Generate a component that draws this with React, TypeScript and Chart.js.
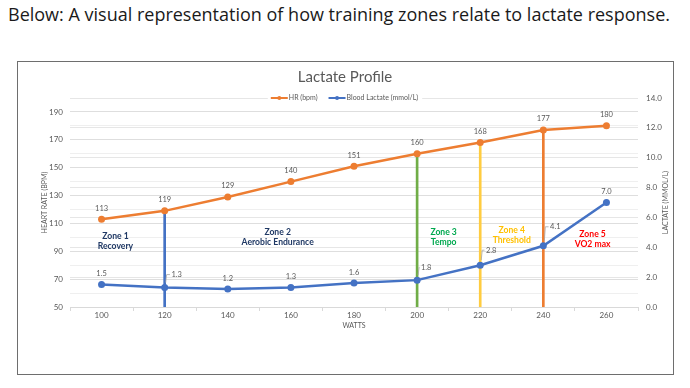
import React, { useEffect, useRef } from 'react';
import { Chart, registerables } from 'chart.js';

Chart.register(...registerables);

const heading = 'Below: A visual representation of how training zones relate to lactate response.';
const chartTitle = 'Lactate Profile';
const xTitle = 'WATTS';
const yLeftTitle = 'HEART RATE (BPM)';
const yRightTitle = 'LACTATE (MMOL/L)';
const hrSeriesName = 'HR (bpm)';
const lactateSeriesName = 'Blood Lactate (mmol/L)';

const watts = ['100', '120', '140', '160', '180', '200', '220', '240', '260'];
const heartRate = [113, 119, 129, 140, 151, 160, 168, 177, 180];
const lactate = [1.5, 1.3, 1.2, 1.3, 1.6, 1.8, 2.8, 4.1, 7.0];

const hrTicks = [50, 70, 90, 110, 130, 150, 170, 190];
const hrMinorGrid = [60, 80, 100, 120, 140, 160, 180];
const lactateTicks = [0, 2, 4, 6, 8, 10, 12, 14];

const zoneBoundaryWatts = ['120', '200', '220', '240'];
const zoneBoundaryColors = ['#4472C4', '#70AD47', '#FFCC40', '#ED7D31'];

const zoneNames = ['Zone 1', 'Zone 2', 'Zone 3', 'Zone 4', 'Zone 5'];
const zoneDescriptions = ['Recovery', 'Aerobic Endurance', 'Tempo', 'Threshold', 'VO2 max'];
const zoneLabelColors = ['#1F3864', '#1F3864', '#00A84F', '#FFC000', '#FF0000'];
// anchor of each zone label, in chart units (watts, heart rate)
const zoneLabelWatts = [104.4, 155.8, 208.4, 230, 255.6];
const zoneLabelHR = [97.4, 100.3, 100.3, 101.7, 98.5];

// label placement for lactate values (pixels relative to point), like moved Excel labels
const lactateLabelOffsets: [number, number][] = [
  [0, -11], [12, -13], [0, -11], [0, -11], [0, -11], [9, -13], [11, -15], [12, -19], [0, -11],
];

const FONT = 'Lato';
const GREY = '#595959';
const HR_COLOR = '#ED7D31';
const LAC_COLOR = '#4472C4';

const overlayPlugin = {
  id: 'overlay',
  afterDatasetsDraw(chart: any) {
    const ctx: CanvasRenderingContext2D = chart.ctx;
    const xs = chart.scales.x;
    const yl = chart.scales.y;
    const yr = chart.scales.y1;
    const ca = chart.chartArea;
    const cx = chart.width / 2;
    ctx.save();

    // data labels
    ctx.font = `7.5px ${FONT}`;
    ctx.fillStyle = GREY;
    ctx.textAlign = 'center';
    ctx.textBaseline = 'middle';
    heartRate.forEach((v, i) => {
      ctx.fillText(String(v), xs.getPixelForValue(i), yl.getPixelForValue(v) - 11);
    });
    lactate.forEach((v, i) => {
      const px = xs.getPixelForValue(i);
      const py = yr.getPixelForValue(v);
      const [dx, dy] = lactateLabelOffsets[i];
      const lx = px + dx;
      const ly = py + dy;
      const t = v.toFixed(1);
      ctx.fillStyle = GREY;
      ctx.fillText(t, lx, ly);
      if (dx !== 0) {
        const w = ctx.measureText(t).width;
        ctx.strokeStyle = '#a6a6a6';
        ctx.lineWidth = 0.8;
        ctx.beginPath();
        ctx.moveTo(px + 1, py - 5);
        ctx.lineTo(px + 2, ly);
        ctx.lineTo(lx - w / 2 - 1.5, ly);
        ctx.stroke();
      }
    });

    // zone labels
    ctx.font = `bold 8.6px ${FONT}`;
    zoneNames.forEach((name, i) => {
      const x = xs.getPixelForValue((zoneLabelWatts[i] - 100) / 20);
      const y = yl.getPixelForValue(zoneLabelHR[i]);
      ctx.fillStyle = zoneLabelColors[i];
      ctx.fillText(name, x, y - 5);
      ctx.fillText(zoneDescriptions[i], x, y + 5);
    });

    // title
    ctx.font = `15px ${FONT}`;
    ctx.fillStyle = GREY;
    ctx.fillText(chartTitle, cx, 77);

    // legend
    ctx.font = `7px ${FONT}`;
    const items = [
      { text: hrSeriesName, color: HR_COLOR },
      { text: lactateSeriesName, color: LAC_COLOR },
    ];
    const lineW = 17;
    const widths = items.map((it) => lineW + 2 + ctx.measureText(it.text).width);
    const total = widths.reduce((a, b) => a + b, 0) + 10;
    let lx = cx - total / 2;
    const ly = ca.top;
    ctx.fillStyle = '#ffffff';
    ctx.fillRect(lx - 3, ly - 4, total + 6, 8);
    items.forEach((it, i) => {
      ctx.strokeStyle = it.color;
      ctx.lineWidth = 2;
      ctx.beginPath();
      ctx.moveTo(lx, ly);
      ctx.lineTo(lx + lineW, ly);
      ctx.stroke();
      ctx.fillStyle = it.color;
      ctx.beginPath();
      ctx.arc(lx + lineW / 2, ly, 2, 0, Math.PI * 2);
      ctx.fill();
      ctx.fillStyle = GREY;
      ctx.textAlign = 'left';
      ctx.fillText(it.text, lx + lineW + 1, ly);
      lx += widths[i] + 10;
    });

    // axis titles
    ctx.font = `7px ${FONT}`;
    ctx.fillStyle = GREY;
    ctx.textAlign = 'center';
    ctx.fillText(xTitle, (ca.left + ca.right) / 2, 326);
    const midY = (ca.top + ca.bottom) / 2;
    ctx.save();
    ctx.translate(45, midY);
    ctx.rotate(-Math.PI / 2);
    ctx.fillText(yLeftTitle, 0, 0);
    ctx.restore();
    ctx.save();
    ctx.translate(666, midY);
    ctx.rotate(-Math.PI / 2);
    ctx.fillText(yRightTitle, 0, 0);
    ctx.restore();

    ctx.restore();
  },
};

export default function App() {
  const canvasRef = useRef<HTMLCanvasElement | null>(null);
  const headRef = useRef<HTMLSpanElement | null>(null);

  useEffect(() => {
    const span = headRef.current;
    if (span) {
      const w = span.getBoundingClientRect().width;
      if (w > 0) span.style.transform = `scaleX(${662 / w})`;
    }
    const canvas = canvasRef.current;
    if (!canvas) return;

    const dropLines = watts.map((w, i) => (zoneBoundaryWatts.includes(w) ? [50, heartRate[i]] : null));
    const dropColors = watts.map((w) => {
      const k = zoneBoundaryWatts.indexOf(w);
      return k >= 0 ? zoneBoundaryColors[k] : 'rgba(0,0,0,0)';
    });

    const chart = new Chart(canvas, {
      data: {
        labels: watts,
        datasets: [
          {
            type: 'bar',
            label: 'zones',
            data: dropLines as any,
            backgroundColor: dropColors,
            barThickness: 2,
            grouped: false,
            yAxisID: 'y',
            order: 5,
          },
          {
            type: 'line',
            label: hrSeriesName,
            data: heartRate,
            borderColor: HR_COLOR,
            backgroundColor: HR_COLOR,
            borderWidth: 2.5,
            pointRadius: 3.5,
            pointBorderWidth: 0,
            yAxisID: 'y',
            order: 1,
          },
          {
            type: 'line',
            label: lactateSeriesName,
            data: lactate,
            borderColor: LAC_COLOR,
            backgroundColor: LAC_COLOR,
            borderWidth: 2.5,
            pointRadius: 3.5,
            pointBorderWidth: 0,
            yAxisID: 'y1',
            order: 0,
          },
        ],
      } as any,
      options: {
        responsive: false,
        animation: false,
        events: [],
        layout: { padding: { top: 98, left: 0, right: 0, bottom: 0 } },
        plugins: { legend: { display: false }, tooltip: { enabled: false }, title: { display: false } },
        scales: {
          x: {
            type: 'category',
            offset: true,
            grid: { drawOnChartArea: false, drawTicks: true, tickLength: 4, color: '#d9d9d9', offset: true },
            border: { display: true, color: '#d9d9d9' },
            ticks: { font: { family: FONT, size: 8 }, color: GREY, padding: 0, maxRotation: 0, autoSkip: false },
            afterFit: (s: any) => { s.height = 81; },
          },
          y: {
            type: 'linear',
            position: 'left',
            min: 50,
            max: 200,
            afterBuildTicks: (s: any) => {
              s.ticks = [...hrTicks, ...hrMinorGrid].sort((a, b) => a - b).map((v) => ({ value: v }));
            },
            ticks: {
              font: { family: FONT, size: 8 },
              color: GREY,
              padding: 7,
              callback: (v: any) => (hrTicks.includes(Number(v)) ? String(v) : ''),
            },
            grid: {
              drawTicks: false,
              color: (c: any) => (hrTicks.includes(c.tick?.value) ? '#dedede' : '#efefef'),
            },
            border: { display: false },
            afterFit: (s: any) => { s.width = 70; },
          },
          y1: {
            type: 'linear',
            position: 'right',
            min: 0,
            max: 14,
            afterBuildTicks: (s: any) => {
              s.ticks = lactateTicks.map((v) => ({ value: v }));
            },
            ticks: {
              font: { family: FONT, size: 8 },
              color: GREY,
              padding: 8,
              callback: (v: any) => Number(v).toFixed(1),
            },
            grid: { drawTicks: false, color: '#e6e6e6' },
            border: { display: false },
            afterFit: (s: any) => { s.width = 52; },
          },
        },
      } as any,
      plugins: [overlayPlugin],
    });
    return () => chart.destroy();
  }, []);

  return (
    <div style={{ position: 'absolute', left: 0, top: 0, width: 690, height: 388, background: '#fff', overflow: 'hidden' }}>
      <div style={{ position: 'absolute', left: 8, top: 5, whiteSpace: 'nowrap', lineHeight: 1 }}>
        <span
          ref={headRef}
          style={{ display: 'inline-block', fontFamily: "'Open Sans'", fontSize: 19, color: '#1a1a1a', transformOrigin: 'left center' }}
        >
          {heading}
        </span>
      </div>
      <div
        style={{ position: 'absolute', left: 17, top: 61, width: 655, height: 312, border: '1px solid #6e6e6e' }}
      />
      <canvas ref={canvasRef} width={690} height={388} style={{ position: 'absolute', left: 0, top: 0 }} />
    </div>
  );
}
